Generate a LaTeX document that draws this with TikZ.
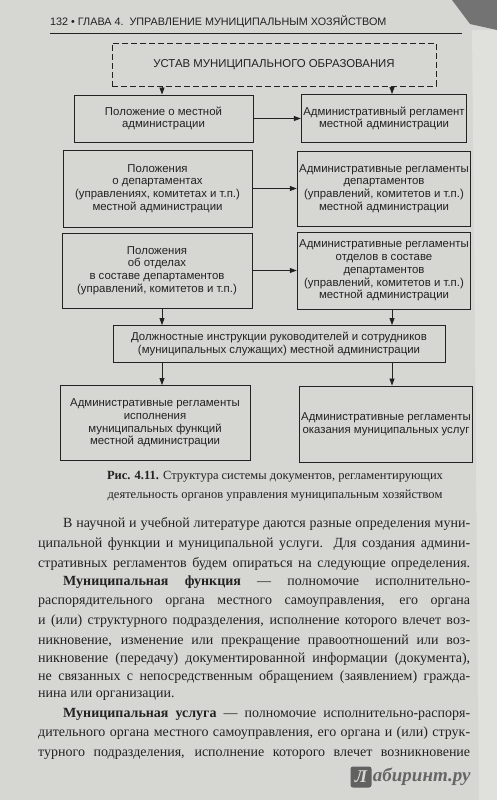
\documentclass[tikz,border=0pt]{standalone}
\usepackage{fontspec}
\setmainfont{Liberation Serif}
\setsansfont{Liberation Sans}
\usepackage{xcolor}
\usetikzlibrary{arrows.meta,positioning}
\definecolor{pagegray}{RGB}{214,214,211}
\definecolor{nextpage}{RGB}{224,224,221}
\definecolor{inkgray}{RGB}{34,34,34}
\newlength\bodywd
\setlength\bodywd{432pt}

\begin{document}
\begin{tikzpicture}[
    x=1pt, y=-1pt,
    box/.style={
        draw=inkgray,
        line width=0.9pt,
        align=center,
        inner sep=2pt,
        text=inkgray,
        font=\sffamily\fontsize{11.4}{12.8}\selectfont
    },
    dbox/.style={
        box,
        dash pattern=on 6pt off 3pt,
        font=\sffamily\fontsize{11.4}{13}\selectfont
    },
    arrow/.style={-{Triangle[length=7pt,width=5pt]}, line width=0.8pt, draw=inkgray},
    txtline/.style={
        anchor=base west,
        inner sep=0pt,
        text=inkgray,
        font=\fontsize{14}{19}\selectfont
    }
]
% page and the edge of the next one
\fill[pagegray] (0,0) rectangle (497,800);
\fill[nextpage] (472,30) .. controls (475,300) and (477,600) .. (479,800) -- (497,800) -- (497,30) -- cycle;
\fill[black!55] (452,0) -- (497,0) -- (497,30) -- (470,24) -- cycle;

% running head
\node[anchor=base west, inner sep=0pt, text=inkgray,
      font=\sffamily\fontsize{10.8}{12}\selectfont] (head) at (50,26)
    {132 \textbullet\ ГЛАВА 4.\ \ УПРАВЛЕНИЕ МУНИЦИПАЛЬНЫМ ХОЗЯЙСТВОМ};
\draw[line width=0.8pt, inkgray] (head.base west) ++(0,7) coordinate (rulea);
\coordinate (ruleb) at (462,33);
\draw[line width=0.8pt, inkgray] (rulea) -- (ruleb);

% columns of the down arrows
\coordinate (lcol) at (162,0);
\coordinate (rcol) at (392,0);

\node[dbox, minimum width=324pt, minimum height=43pt] (ustav) at (274,64.5)
    {УСТАВ МУНИЦИПАЛЬНОГО ОБРАЗОВАНИЯ};

\node[box, minimum width=179pt, minimum height=47pt] (polmest) at (163.5,118.5)
    {Положение о местной\\администрации};
\node[box, minimum width=162pt, minimum height=48pt] (regmest) at (384,118.5)
    {Административный регламент\\местной администрации};

\node[box, minimum width=189pt, minimum height=77pt] (poldep) at (157.5,188.5)
    {Положения\\о департаментах\\(управлениях, комитетах и т.п.)\\местной администрации};
\node[box, minimum width=164pt, minimum height=75pt] (regdep) at (384,188.5)
    {Административные регламенты\\департаментов\\(управлений, комитетов и т.п.)\\местной администрации};

\node[box, minimum width=190pt, minimum height=75pt] (polotd) at (157,270.5)
    {Положения\\об отделах\\в составе департаментов\\(управлений, комитетов и т.п.)};
\node[box, minimum width=164pt, minimum height=77pt] (regotd) at (384,270.5)
    {Административные регламенты\\отделов в составе\\департаментов\\(управлений, комитетов и т.п.)\\местной администрации};

\node[box, minimum width=332pt, minimum height=37pt] (dolzh) at (279,344)
    {Должностные инструкции руководителей и сотрудников\\(муниципальных служащих) местной администрации};

\node[box, minimum width=190pt, minimum height=75pt] (regfunk) at (155,423)
    {Административные регламенты\\исполнения\\муниципальных функций\\местной администрации};
\node[box, minimum width=168pt, minimum height=76pt] (reguslug) at (386,424)
    {Административные регламенты\\оказания муниципальных услуг};

\draw[arrow] (ustav.south -| lcol) -- (polmest.north -| lcol);
\draw[arrow] (ustav.south -| rcol) -- (regmest.north -| rcol);
\draw[arrow] (polmest) -- (regmest);
\draw[arrow] (poldep) -- (regdep);
\draw[arrow] (polotd) -- (regotd);
\draw[arrow] (polotd.south -| lcol) -- (dolzh.north -| lcol);
\draw[arrow] (regotd.south -| rcol) -- (dolzh.north -| rcol);
\draw[arrow] (dolzh.south -| lcol) -- (regfunk.north -| lcol);
\draw[arrow] (dolzh.south -| rcol) -- (reguslug.north -| rcol);

% caption
\node[align=center, inner sep=0pt, text=inkgray,
      font=\fontsize{12.5}{18.5}\selectfont] (capt) at (275,486)
    {\textbf{Рис. 4.11.} Структура системы документов, регламентирующих\\
     деятельность органов управления муниципальным хозяйством};

% body text, one line each
\foreach \yy/\txt in {
    527/{\hbox to \bodywd{\kern25pt В научной и учебной литературе даются разные определения муни-}},
    547/{\hbox to \bodywd{ципальной функции и муниципальной услуги. Для создания админи-}},
    567/{\hbox to \bodywd{стративных регламентов будем опираться на следующие определения.}},
    585/{\hbox to \bodywd{\kern25pt\textbf{Муниципальная функция} — полномочие исполнительно-}},
    604/{\hbox to \bodywd{распорядительного органа местного самоуправления, его органа}},
    624/{\hbox to \bodywd{и (или) структурного подразделения, исполнение которого влечет воз-}},
    644/{\hbox to \bodywd{никновение, изменение или прекращение правоотношений или воз-}},
    662/{\hbox to \bodywd{никновение (передачу) документированной информации (документа),}},
    680/{\hbox to \bodywd{не связанных с непосредственным обращением (заявлением) гражда-}},
    697/{нина или организации.},
    717/{\hbox to \bodywd{\kern25pt\textbf{Муниципальная услуга} — полномочие исполнительно-распоря-}},
    736/{\hbox to \bodywd{дительного органа местного самоуправления, его органа и (или) струк-}},
    756/{\hbox to \bodywd{турного подразделения, исполнение которого влечет возникновение}}
} \node[txtline] at (38,\yy) {\txt};

% watermark
\node[fill=black!62, text=pagegray, rounded corners=2.5pt, inner sep=1pt,
      minimum size=21pt, font=\bfseries\itshape\fontsize{18}{18}\selectfont] (wmicon) at (361,777) {Л};
\node[right=1pt of wmicon, inner sep=0pt, text=black!60,
      font=\bfseries\itshape\fontsize{19}{19}\selectfont] (wmtext) {абиринт.ру};
\end{tikzpicture}
\end{document}
